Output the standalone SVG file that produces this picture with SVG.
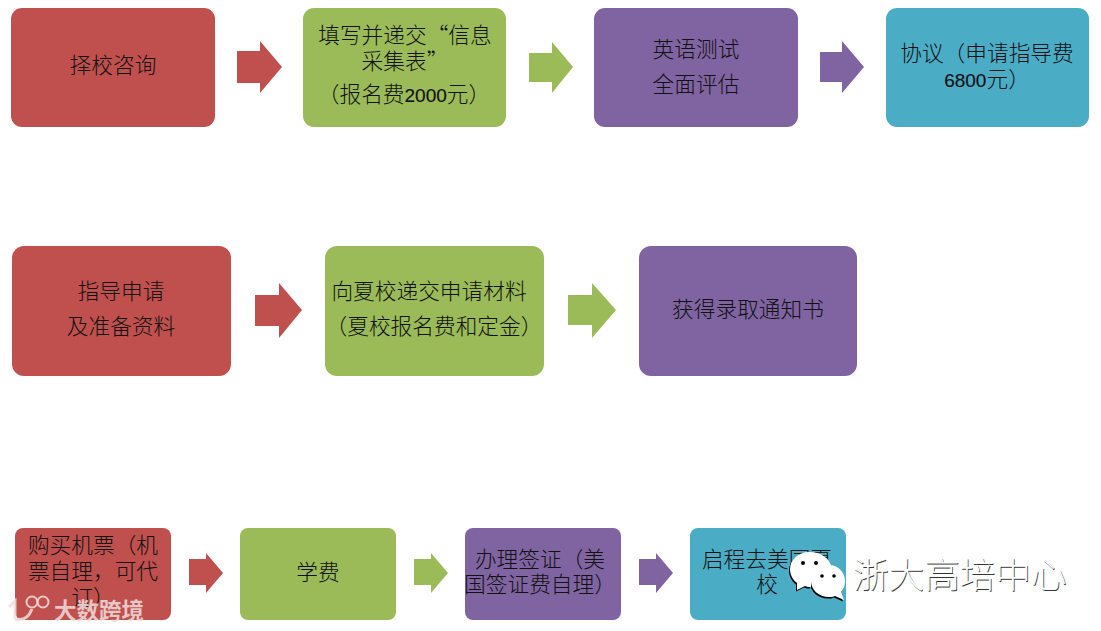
<svg xmlns="http://www.w3.org/2000/svg" width="1101" height="631" viewBox="0 0 1101 631">
<style>
.t{font-family:"Noto Sans CJK SC","Liberation Sans",sans-serif;font-size:21.7px;fill:#111;text-anchor:middle;font-weight:300}
.n{font-family:"Liberation Sans",sans-serif;font-size:19px;stroke:#111;stroke-width:.15}
.r{fill:#c0504d}.g{fill:#9bbb59}.p{fill:#8064a2}.b{fill:#4bacc6}
.wm{font-family:"Noto Sans CJK SC",sans-serif;font-size:22.5px;fill:#f0dede;fill-opacity:.85;font-weight:700}
.brand{font-family:"Noto Sans CJK SC",sans-serif;font-size:35.6px;font-weight:300;fill:#fff}
.brands{font-family:"Noto Sans CJK SC",sans-serif;font-size:35.6px;font-weight:300;fill:#333}
.bub{fill:#fff}
</style>
<g id="n1"><rect class="r" x="11" y="8" width="204" height="119" rx="11"/><text class="t" x="113" y="73">择校咨询</text></g>
<g id="n2"><rect class="g" x="303" y="8" width="203" height="119" rx="11"/><text class="t" x="405" y="43">填写并递交“信息</text><text class="t" x="405" y="69">采集表”</text><text class="t" x="404" y="102">（报名费<tspan class="n">2000</tspan>元）</text></g>
<g id="n3"><rect class="p" x="594" y="8" width="204" height="119" rx="11"/><text class="t" x="696" y="57">英语测试</text><text class="t" x="696" y="92">全面评估</text></g>
<g id="n4"><rect class="b" x="886" y="8" width="203" height="119" rx="11"/><text class="t" x="987" y="61">协议（申请指导费</text><text class="t" x="987" y="87"><tspan class="n">6800</tspan>元）</text></g>
<g id="n5"><rect class="r" x="12" y="246" width="219" height="130" rx="12"/><text class="t" x="121" y="299">指导申请</text><text class="t" x="121" y="334">及准备资料</text></g>
<g id="n6"><rect class="g" x="325" y="246" width="219" height="130" rx="12"/><text class="t" x="429" y="299">向夏校递交申请材料</text><text class="t" x="434" y="334">（夏校报名费和定金）</text></g>
<g id="n7"><rect class="p" x="639" y="246" width="218" height="130" rx="12"/><text class="t" x="748" y="317">获得录取通知书</text></g>
<g id="n8"><rect class="r" x="15" y="528" width="156" height="92" rx="8"/><text class="t" x="93" y="553">购买机票（机</text><text class="t" x="93" y="579">票自理，可代</text><text class="t" x="93" y="605">订）</text></g>
<g id="n9"><rect class="g" x="240" y="528" width="156" height="92" rx="8"/><text class="t" x="318" y="580">学费</text></g>
<g id="n10"><rect class="p" x="465" y="528" width="156" height="92" rx="8"/><text class="t" x="540" y="567">办理签证（美</text><text class="t" x="540" y="592">国签证费自理）</text></g>
<g id="n11"><rect class="b" x="690" y="528" width="156" height="92" rx="8"/><text class="t" x="767" y="567">启程去美国夏</text><text class="t" x="767" y="592">校</text></g>
<g id="connectors">
<polygon class="r" points="237,51 260,51 260,41 282,67 260,93 260,83 237,83"/>
<polygon class="g" points="529,53 552,53 552,42 573,67 552,93 552,82 529,82"/>
<polygon class="p" points="820,52 842,52 842,41 864,67 842,93 842,82 820,82"/>
<polygon class="r" points="255,295 279,295 279,283 302,310 279,338 279,326 255,326"/>
<polygon class="g" points="568,295 592,295 592,283 616,310 592,338 592,325 568,325"/>
<polygon class="r" points="189,559 206,559 206,553 223,573 206,593 206,585 189,585"/>
<polygon class="g" points="414,559 431,559 431,553 448,573 431,593 431,585 414,585"/>
<polygon class="p" points="639,559 656,559 656,553 673,573 656,593 656,585 639,585"/>
</g>
<g id="wechat-mark">
<g transform="translate(-1 1.5)"><path d="M809 552c-11 0-19 8-19 17 0 6 3 11 7 14l0 7 8-4c2 1 4 1 6 1 0-11 9-20 20-20 1 0 .5 0 .5 0-2-9-11-15-22.500-15z"/><path d="M829 565c-10 0-18 7-18 16s8 16 18 16c2 0 4 0 6-1l9 4-3-8c3-3 4-7 4-11 0-9-7-16-16-16z"/></g>
<path class="bub" d="M809 552c-11 0-19 8-19 17 0 6 3 11 7 14l0 7 8-4c2 1 4 1 6 1 0-11 9-20 20-20 1 0 .5 0 .5 0-2-9-11-15-22.500-15z"/>
<path class="bub" d="M829 565c-10 0-18 7-18 16s8 16 18 16c2 0 4 0 6-1l9 4-3-8c3-3 4-7 4-11 0-9-7-16-16-16z"/>
<circle cx="803" cy="563" r="2"/><circle cx="816" cy="563" r="2"/><circle cx="822" cy="576" r="1.8"/><circle cx="834" cy="576" r="1.8"/>
<text class="brands" x="853.800" y="588.700">浙大高培中心</text>
<text class="brand" x="853" y="588">浙大高培中心</text>
</g>
<g id="watermark" fill="none" stroke="#f0dede" stroke-opacity=".85" stroke-width="3">
<path d="M9 607l6-6v18M15 619q12 3 17-10"/><circle cx="32" cy="602" r="5.500" stroke-width="2"/><circle cx="43" cy="602" r="5.500" stroke-width="2"/>
<text class="wm" stroke="none" x="54" y="619">大数跨境</text>
</g>
</svg>
